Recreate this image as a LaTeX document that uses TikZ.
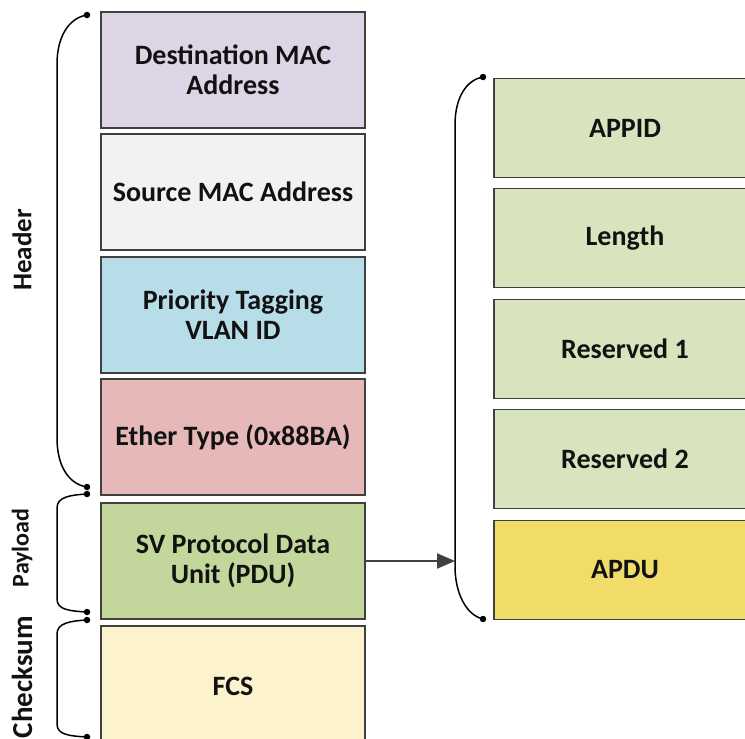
\documentclass[tikz,border=0pt]{standalone}
\usepackage{fontspec}
\setmainfont{Carlito}
\usetikzlibrary{arrows.meta}

\definecolor{cDst}{HTML}{DDD5E6}
\definecolor{cSrc}{HTML}{F2F2F2}
\definecolor{cPrio}{HTML}{B7DDE8}
\definecolor{cEth}{HTML}{E6B9B8}
\definecolor{cSv}{HTML}{C3D69B}
\definecolor{cFcs}{HTML}{FCF2CC}
\definecolor{cSub}{HTML}{D7E4BD}
\definecolor{cApdu}{HTML}{F1DC6A}
\definecolor{cEdge}{HTML}{404040}
\definecolor{cText}{HTML}{121212}

\tikzset{
  field/.style={draw=cEdge, line width=1.6pt, text=cText, align=center,
    font=\fontsize{28}{30}\selectfont\bfseries, inner sep=0pt},
  leftfield/.style={field, minimum width=264pt, minimum height=116pt},
  subfield/.style={field, minimum width=262pt, minimum height=99pt},
  brace/.style={draw=black, line width=1.5pt},
  bracedot/.style={fill=black, circle, inner sep=0pt, minimum size=6.5pt},
  sidelabel/.style={rotate=90, text=cText, font=\fontsize{27}{30}\selectfont\bfseries},
  flow/.style={draw=cEdge, line width=2.2pt, -{Triangle[length=18pt, width=15pt]}}
}

\begin{document}
\begin{tikzpicture}[x=1pt, y=-1pt]
  \useasboundingbox (0,0) rectangle (745,739);
  \clip (0,0) rectangle (745,739);

  % frame fields
  \node[leftfield, fill=cDst]  (dst)  at (233,70)  {Destination MAC\\Address};
  \node[leftfield, fill=cSrc]  (src)  at (233,192) {Source MAC Address};
  \node[leftfield, fill=cPrio] (prio) at (233,315) {Priority Tagging\\VLAN ID};
  \node[leftfield, fill=cEth]  (eth)  at (233,437) {Ether Type (0x88BA)};
  \node[leftfield, fill=cSv]   (sv)   at (233,561) {SV Protocol Data\\Unit (PDU)};
  \node[leftfield, fill=cFcs, minimum height=120pt] (fcs) at (233,686) {FCS};

  % PDU fields
  \node[subfield, fill=cSub]  (appid) at (625,128) {APPID};
  \node[subfield, fill=cSub]  (len)   at (625,238) {Length};
  \node[subfield, fill=cSub]  (res1)  at (625,349) {Reserved 1};
  \node[subfield, fill=cSub]  (res2)  at (625,459) {Reserved 2};
  \node[subfield, fill=cApdu] (apdu)  at (625,570) {APDU};

  % brace end points
  \node[bracedot] (hTop) at (87,15) {};
  \node[bracedot] (hBot) at (87,487) {};
  \node[bracedot] (pTop) at (87,494) {};
  \node[bracedot] (pBot) at (87,612) {};
  \node[bracedot] (cTop) at (87,620) {};
  \node[bracedot] (cBot) at (87,737) {};
  \node[bracedot] (rTop) at (483,77) {};
  \node[bracedot] (rBot) at (483,619) {};
  \coordinate (rMid) at (455,561);

  % header brace
  \draw[brace] (hTop.center) .. controls (68,18) and (57,38) .. (57,64)
    -- (57,438) .. controls (57,465) and (68,484) .. (hBot.center);
  % payload brace
  \draw[brace] (pTop.center) .. controls (70,495) and (57,497) .. (57,508)
    -- (57,599) .. controls (57,610) and (70,611) .. (pBot.center);
  % checksum brace
  \draw[brace] (cTop.center) .. controls (70,621) and (57,623) .. (57,634)
    -- (57,724) .. controls (57,735) and (70,736) .. (cBot.center);
  % PDU brace
  \draw[brace] (rTop.center) .. controls (466,80) and (455,98) .. (455,125)
    -- (455,566) .. controls (455,593) and (466,615) .. (rBot.center);

  % PDU expansion arrow
  \draw[flow] (sv.east) -- (rMid);

  % section labels
  \node[sidelabel] (lblHeader)   at (22,250) {Header};
  \node[sidelabel, font=\fontsize{24}{28}\selectfont\bfseries] (lblPayload) at (22,548) {Payload};
  \node[sidelabel, font=\fontsize{29}{32}\selectfont\bfseries] (lblChecksum) at (22,677) {Checksum};
\end{tikzpicture}
\end{document}
